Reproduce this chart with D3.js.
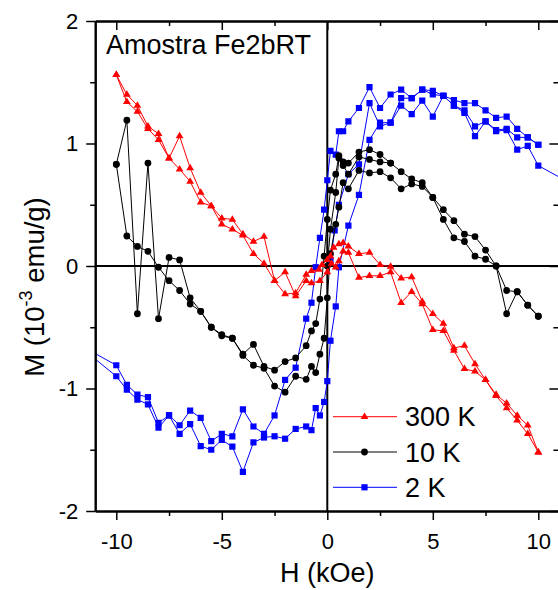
<!DOCTYPE html>
<html>
<head>
<meta charset="utf-8">
<script src="https://cdn.jsdelivr.net/npm/d3@7"></script>
<style>
  body { margin: 0; background: #fff; }
  svg text { font-family: "Liberation Sans", Arial, sans-serif; fill: #000; }
</style>
</head>
<body>
<svg id="chart" width="558" height="590"></svg>
<script>
// Axis ticks
const fieldTicks = [-10, -5, 0, 5, 10];
const fieldMinorTicks = [-7.5, -2.5, 2.5, 7.5];
const momentTicks = [-2, -1, 0, 1, 2];
const momentMinorTicks = [-1.5, -0.5, 0.5, 1.5];

// Series labels and styles
const seriesNames = ["300 K", "10 K", "2 K"];
const seriesColors = ["#ff0000", "#000000", "#0000ff"];
const seriesSymbols = ["triangle", "circle", "square"];

// 300 K loop, [H (kOe), M (10^-3 emu/g)]
const loop300A = [[-10,1.56],[-9.5,1.40],[-9,1.31],[-8.5,1.14],[-8,1.08],[-7.5,0.88],[-7,1.06],[-6.5,0.80],[-6,0.60],[-5.5,0.49],[-5,0.39],[-4.5,0.38],[-4,0.26],[-3.5,0.20],[-3,0.24],[-2.5,-0.12],[-2,-0.23],[-1.5,-0.22],[-1,-0.07],[-0.75,-0.04],[-0.4,-0.03],[-0.25,0.01],[0,0.05],[0.15,0.08],[0.3,0.15],[0.55,0.18],[0.75,0.19],[1,0.16],[1.5,0.10],[2,0.11],[2.5,0.01],[3,-0.005],[3.5,-0.10],[4,-0.09],[4.5,-0.29],[5,-0.39],[5.5,-0.47],[6,-0.67],[6.5,-0.65],[7,-0.80],[7.5,-0.93],[8,-1.05],[8.5,-1.12],[9,-1.22],[9.5,-1.30],[10,-1.52]];
const loop300B = [[-10,1.56],[-9.5,1.34],[-9,1.26],[-8.5,1.12],[-8,1.03],[-7.5,0.88],[-7,0.79],[-6.5,0.69],[-6,0.52],[-5.5,0.49],[-5,0.34],[-4.5,0.30],[-4,0.25],[-3.5,0.10],[-3,0.02],[-2.5,-0.12],[-2,-0.05],[-1.5,-0.245],[-1,-0.12],[-0.75,-0.14],[-0.35,-0.12],[0,-0.05],[0.2,0.02],[0.4,-0.01],[0.55,0.04],[0.75,0.12],[1,0.11],[1.5,-0.095],[2,-0.08],[2.5,-0.08],[3,-0.05],[3.5,-0.30],[4,-0.21],[4.5,-0.31],[5,-0.52],[5.5,-0.53],[6,-0.69],[6.5,-0.84],[7,-0.86],[7.5,-0.93],[8,-1.06],[8.5,-1.16],[9,-1.26],[9.5,-1.37],[10,-1.52]];

// 10 K loop and initial curve
const loop10A = [[-10,0.83],[-9.5,1.19],[-9,-0.39],[-8.5,0.84],[-8,-0.43],[-7.5,0.07],[-7,0.05],[-6.5,-0.26],[-6,-0.37],[-5.5,-0.50],[-5,-0.56],[-4.5,-0.59],[-4,-0.72],[-3.5,-0.64],[-3,-0.82],[-2.5,-0.85],[-2,-0.78],[-1.5,-0.75],[-1,-0.65],[-0.75,-0.53],[-0.55,-0.47],[-0.35,-0.27],[-0.15,0.08],[0,0.38],[0.15,0.62],[0.4,0.75],[0.55,0.90],[0.75,0.85],[1,0.84],[1.5,0.93],[2,0.95],[2.5,0.91],[3,0.84],[3.5,0.77],[4,0.71],[4.5,0.68],[5,0.56],[5.5,0.46],[6,0.37],[6.5,0.26],[7,0.24],[7.5,0.13],[8,0.0],[8.5,-0.20],[9,-0.21],[9.5,-0.32],[10,-0.41]];
const loop10B = [[-10,0.83],[-9.5,0.245],[-9,0.16],[-8.5,0.12],[-8,-0.01],[-7.5,-0.12],[-7,-0.20],[-6.5,-0.31],[-6,-0.37],[-5.5,-0.50],[-5,-0.57],[-4.5,-0.59],[-4,-0.73],[-3.5,-0.81],[-3,-0.835],[-2.5,-0.98],[-2,-1.03],[-1.5,-0.90],[-1,-0.925],[-0.75,-0.82],[-0.55,-0.87],[-0.35,-0.72],[-0.15,-0.59],[0,-0.26],[0.15,0.10],[0.4,0.34],[0.55,0.48],[0.75,0.68],[1,0.63],[1.5,0.78],[2,0.76],[2.5,0.77],[3,0.72],[3.5,0.63],[4,0.67],[4.5,0.65],[5,0.56],[5.5,0.38],[6,0.23],[6.5,0.20],[7,0.08],[7.5,0.055],[8,0.0],[8.5,-0.39],[9,-0.21],[9.5,-0.32],[10,-0.41]];
const virgin10 = [[0,0],[0.15,0.30],[0.4,0.60],[0.55,0.88],[0.75,0.82],[1,0.75],[1.5,0.89],[2,0.87],[2.5,0.85],[3,0.84]];

// 2 K loop and initial curve
const loop2A = [[-12,-0.62],[-10,-0.81],[-9.5,-0.97],[-9,-1.05],[-8.5,-1.07],[-8,-1.28],[-7.5,-1.22],[-7,-1.30],[-6.5,-1.18],[-6,-1.24],[-5.5,-1.43],[-5,-1.37],[-4.5,-1.39],[-4,-1.17],[-3.5,-1.31],[-3,-1.37],[-2.5,-1.22],[-2,-0.93],[-1.5,-0.83],[-1,-0.43],[-0.75,-0.30],[-0.55,-0.01],[-0.35,0.23],[-0.15,0.46],[0,0.70],[0.15,0.94],[0.4,0.91],[0.55,1.10],[0.75,1.10],[1,1.18],[1.5,1.29],[2,1.46],[2.5,1.29],[3,1.40],[3.5,1.44],[4,1.37],[4.5,1.44],[5,1.43],[5.5,1.39],[6,1.355],[6.5,1.33],[7,1.33],[7.5,1.27],[8,1.21],[8.5,1.22],[9,1.12],[9.5,1.05],[10,0.99]];
const loop2B = [[-12,-0.62],[-10,-0.90],[-9.5,-1.01],[-9,-1.09],[-8.5,-1.13],[-8,-1.32],[-7.5,-1.22],[-7,-1.37],[-6.5,-1.29],[-6,-1.47],[-5.5,-1.50],[-5,-1.42],[-4.5,-1.475],[-4,-1.68],[-3.5,-1.44],[-3,-1.40],[-2.5,-1.39],[-2,-1.41],[-1.5,-1.33],[-1,-1.31],[-0.75,-1.34],[-0.55,-1.16],[-0.35,-1.22],[-0.15,-1.11],[0,-0.94],[0.15,-0.61],[0.4,-0.33],[0.55,-0.01],[1,0.33],[1.5,0.58],[2,1.03],[2.5,1.17],[3,1.17],[3.5,1.31],[4,1.24],[4.5,1.35],[5,1.22],[5.5,1.39],[6,1.31],[6.5,1.25],[7,1.06],[7.5,1.18],[8,1.10],[8.5,1.11],[9,0.95],[9.5,0.98],[10,0.82],[12,0.63]];
const virgin2 = [[0.15,0.05],[0.35,0.29],[0.55,0.50],[1,0.75],[1.5,0.83],[2,1.33],[2.5,1.14],[3,1.17],[3.5,1.37],[4,1.37],[4.5,1.44],[5,1.40],[5.5,1.39],[6,1.31],[6.5,1.27],[7,1.14],[7.5,1.18],[8,1.11],[8.5,1.12],[9,1.05],[9.5,1.05],[10,0.99]];

const seriesBranches = [
  [loop300A, loop300B],
  [loop10A, loop10B, virgin10],
  [loop2A, loop2B, virgin2]
];

const svg = d3.select("#chart");
const x = d3.scaleLinear().domain([-11, 11]).range([95.2, 559.4]);
const y = d3.scaleLinear().domain([-2, 2]).range([511, 21]);
const [x0, x1] = x.range();
const [y0, y1] = y.range();

svg.append("defs").append("clipPath").attr("id", "plotClip")
  .append("rect").attr("x", x0).attr("y", y1).attr("width", x1 - x0).attr("height", y0 - y1);

function symbolPath(kind) {
  if (kind === "triangle") return "M0,-4.3L3.9,2.2L-3.9,2.2Z";
  if (kind === "square") return "M-3.1,-3.1H3.1V3.1H-3.1Z";
  return d3.symbol(d3.symbolCircle, Math.PI * 3.4 * 3.4)();
}

// Zero reference lines
svg.append("line").attr("x1", x0).attr("x2", x1).attr("y1", y(0)).attr("y2", y(0))
  .attr("stroke", "#000").attr("stroke-width", 2);
svg.append("line").attr("x1", x(0)).attr("x2", x(0)).attr("y1", y0).attr("y2", y1)
  .attr("stroke", "#000").attr("stroke-width", 2);

// Data
const line = d3.line().x(d => x(d[0])).y(d => y(d[1]));
const plot = svg.append("g").attr("clip-path", "url(#plotClip)");
[2, 1, 0].forEach(i => {
  const g = plot.append("g");
  seriesBranches[i].forEach(branch => {
    g.append("path").datum(branch).attr("d", line)
      .attr("fill", "none").attr("stroke", seriesColors[i]).attr("stroke-width", 1);
  });
  seriesBranches[i].forEach(branch => {
    g.selectAll(null).data(branch).join("path")
      .attr("d", symbolPath(seriesSymbols[i]))
      .attr("transform", d => `translate(${x(d[0])},${y(d[1])})`)
      .attr("fill", seriesColors[i]);
  });
});

// Axes
function styleAxis(g) {
  g.select(".domain").attr("stroke-width", 2);
  g.selectAll(".tick line").attr("stroke-width", 1.5);
  g.attr("font-family", null).attr("font-size", 22);
}
const fmt = d => String(d);

svg.append("g").attr("transform", `translate(0,${y0})`)
  .call(d3.axisBottom(x).tickValues(fieldTicks).tickFormat(fmt).tickSize(9).tickSizeOuter(0).tickPadding(13))
  .call(styleAxis);
svg.append("g").attr("transform", `translate(0,${y0})`)
  .call(d3.axisBottom(x).tickValues(fieldMinorTicks).tickFormat("").tickSize(5).tickSizeOuter(0))
  .call(styleAxis);
svg.append("g").attr("transform", `translate(0,${y1})`)
  .call(d3.axisBottom(x).tickValues(fieldTicks).tickFormat("").tickSize(9).tickSizeOuter(0))
  .call(styleAxis);
svg.append("g").attr("transform", `translate(0,${y1})`)
  .call(d3.axisBottom(x).tickValues(fieldMinorTicks).tickFormat("").tickSize(5).tickSizeOuter(0))
  .call(styleAxis);

svg.append("g").attr("transform", `translate(${x0},0)`)
  .call(d3.axisLeft(y).tickValues(momentTicks).tickFormat(fmt).tickSize(9).tickSizeOuter(0).tickPadding(8))
  .call(styleAxis);
svg.append("g").attr("transform", `translate(${x0},0)`)
  .call(d3.axisLeft(y).tickValues(momentMinorTicks).tickFormat("").tickSize(5).tickSizeOuter(0))
  .call(styleAxis);
svg.append("g").attr("transform", `translate(${x1},0)`)
  .call(d3.axisLeft(y).tickValues(momentTicks).tickFormat("").tickSize(10).tickSizeOuter(0))
  .call(styleAxis);
svg.append("g").attr("transform", `translate(${x1},0)`)
  .call(d3.axisLeft(y).tickValues(momentMinorTicks).tickFormat("").tickSize(6).tickSizeOuter(0))
  .call(styleAxis);

// Titles
svg.append("text").attr("x", 106).attr("y", 54).attr("font-size", 27).text("Amostra Fe2bRT");
svg.append("text").attr("x", x(0)).attr("y", 582).attr("text-anchor", "middle")
  .attr("font-size", 27).text("H (kOe)");
const yTitle = svg.append("text").attr("transform", "translate(44,287) rotate(-90)")
  .attr("text-anchor", "middle").attr("font-size", 27.5);
yTitle.append("tspan").text("M (10");
yTitle.append("tspan").attr("dy", -12).attr("font-size", 18).text("-3");
yTitle.append("tspan").attr("dy", 12).text(" emu/g)");

// Legend
const legend = svg.append("g");
seriesNames.forEach((name, i) => {
  const ly = 416.7 + i * 35.3;
  legend.append("line").attr("x1", 333).attr("x2", 397).attr("y1", ly).attr("y2", ly)
    .attr("stroke", seriesColors[i]).attr("stroke-width", 1);
  legend.append("path").attr("d", symbolPath(seriesSymbols[i]))
    .attr("transform", `translate(364.5,${ly})`).attr("fill", seriesColors[i]);
  legend.append("text").attr("x", 405).attr("y", ly + 9.5).attr("font-size", 27).text(name);
});
</script>
</body>
</html>
